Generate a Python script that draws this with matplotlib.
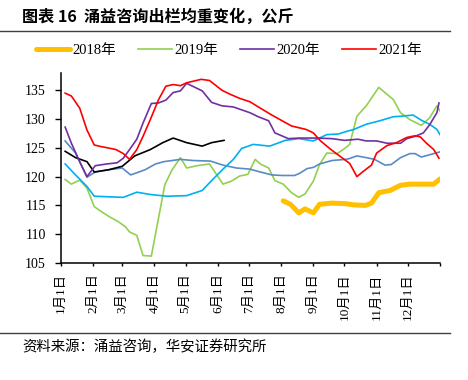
import matplotlib
matplotlib.use('Agg')
import matplotlib.pyplot as plt

plt.rcParams['font.family'] = ['Liberation Serif', 'Noto Sans CJK SC', 'DejaVu Sans']

# x = day of year (kg)
x_2018 = [215, 222, 230, 236, 244, 250, 262, 275, 283, 294, 300, 307, 318, 328, 337, 350, 360, 366]
y_2018 = [115.8, 115.2, 113.7, 114.4, 113.7, 115.2, 115.4, 115.3, 115.1, 115.0, 115.4, 117.2, 117.6, 118.5,
          118.7, 118.7, 118.7, 119.6]

x_2019 = [5, 11, 19, 26, 33, 40, 48, 56, 63, 67, 74, 80, 88, 101, 108, 116, 122, 132, 144, 157, 165, 173,
          181, 188, 193, 201, 207, 215, 223, 230, 236, 244, 250, 257, 267, 275, 279, 286, 295, 307, 321,
          328, 337, 348, 356, 363, 366]
y_2019 = [119.5, 118.7, 119.4, 118.0, 114.8, 113.9, 113.0, 112.2, 111.3, 110.4, 109.8, 106.3, 106.2, 118.6,
          121.2, 123.3, 121.5, 121.9, 122.2, 118.7, 119.2, 120.1, 120.4, 123.0, 122.2, 121.5, 119.3, 118.7,
          117.2, 116.4, 117.0, 119.2, 122.1, 124.1, 124.0, 125.0, 125.6, 130.5, 132.3, 135.5, 133.4, 131.1,
          129.9, 128.9, 130.2, 132.3, 131.4]

x_2020 = [5, 11, 19, 26, 34, 45, 55, 61, 67, 74, 80, 88, 95, 102, 109, 116, 122, 137, 146, 156, 167, 183,
          191, 201, 207, 220, 230, 246, 262, 274, 287, 295, 305, 315, 328, 334, 342, 350, 356, 363, 365]
y_2020 = [128.6, 125.8, 122.6, 120.0, 121.9, 122.2, 122.4, 123.2, 124.7, 126.5, 129.3, 132.7, 132.8, 133.3,
          134.6, 134.9, 136.2, 134.9, 132.9, 132.3, 132.1, 131.1, 130.4, 129.7, 127.6, 126.6, 126.7, 126.7,
          126.6, 126.3, 126.5, 126.2, 126.2, 125.8, 125.8, 126.6, 127.0, 127.6, 129.0, 131.1, 132.8]

x_2021 = [5, 11, 19, 26, 33, 40, 46, 54, 61, 67, 74, 80, 87, 95, 102, 109, 116, 122, 136, 144, 156, 164,
          173, 183, 192, 204, 223, 237, 244, 251, 261, 273, 279, 286, 292, 300, 305, 315, 324, 334, 342,
          347, 353, 360, 365]
y_2021 = [134.5, 134.0, 131.9, 128.1, 125.5, 125.2, 125.0, 124.7, 124.0, 123.0, 124.7, 127.0, 129.9, 133.4,
          135.7, 136.0, 135.8, 136.3, 136.9, 136.7, 135.0, 134.3, 133.6, 133.0, 132.0, 130.7, 128.8, 128.2,
          127.6, 126.2, 124.7, 123.1, 122.3, 120.0, 120.9, 122.0, 124.1, 125.4, 125.9, 126.8, 127.1, 126.9,
          125.8, 124.7, 123.2]

# series drawn without a legend entry
x_black = [5, 15, 26, 33, 47, 60, 72, 87, 99, 109, 122, 137, 146, 158]
y_black = [124.4, 123.3, 122.6, 120.8, 121.2, 121.8, 123.6, 124.7, 125.9, 126.7, 125.9, 125.3, 125.9, 126.3]

x_steel = [5, 15, 26, 34, 47, 60, 68, 76, 82, 92, 100, 116, 128, 145, 157, 170, 183, 191, 204, 214, 226,
           231, 238, 244, 250, 262, 275, 278, 286, 295, 303, 313, 319, 328, 337, 342, 348, 356, 366]
y_steel = [126.2, 124.1, 119.9, 120.8, 121.2, 121.5, 120.3, 120.8, 121.2, 122.2, 122.6, 123.0, 122.8, 122.7,
           122.0, 121.5, 121.3, 120.9, 120.3, 120.2, 120.2, 120.6, 121.4, 121.6, 122.2, 122.8, 123.0, 123.1,
           123.6, 123.3, 123.0, 122.0, 122.1, 123.3, 124.0, 124.0, 123.4, 123.8, 124.3]

x_cyan = [5, 15, 26, 33, 47, 61, 74, 87, 103, 122, 137, 146, 157, 167, 175, 183, 186, 202, 217, 230, 244,
          257, 268, 275, 283, 295, 308, 321, 329, 340, 348, 356, 363, 366]
y_cyan = [122.2, 120.3, 118.3, 116.6, 116.5, 116.4, 117.3, 116.9, 116.6, 116.7, 117.6, 119.3, 121.3, 123.0,
          124.9, 125.4, 125.6, 125.3, 126.3, 126.6, 126.2, 127.3, 127.4, 127.8, 128.2, 129.1, 129.7, 130.4,
          130.5, 130.7, 129.8, 129.1, 128.2, 127.3]

month_days = [1, 32, 60, 91, 121, 152, 182, 213, 244, 274, 305, 335, 366]
month_labels = ['1月1日', '2月1日', '3月1日', '4月1日', '5月1日', '6月1日', '7月1日', '8月1日',
                '9月1日', '10月1日', '11月1日', '12月1日', '']

fig = plt.figure(figsize=(4.68, 3.8), dpi=100)
ax = fig.add_axes([61 / 468, 1 - 263 / 380, 379 / 468, (263 - 73) / 380])

h18, = ax.plot(x_2018, y_2018, color='#FFC000', lw=3.6, solid_capstyle='round', solid_joinstyle='round',
               label='2018年')
h19, = ax.plot(x_2019, y_2019, color='#92D050', lw=1.2, label='2019年')
ax.plot(x_steel, y_steel, color='#5A8AC6', lw=1.2)
ax.plot(x_cyan, y_cyan, color='#00B0F0', lw=1.2)
ax.plot(x_black, y_black, color='black', lw=1.2)
h20, = ax.plot(x_2020, y_2020, color='#7030A0', lw=1.2, label='2020年')
h21, = ax.plot(x_2021, y_2021, color='#FF0000', lw=1.2, label='2021年')

ax.set_xlim(1, 366)
ax.set_ylim(105, 138)
ax.set_yticks([105, 110, 115, 120, 125, 130, 135])
ax.set_xticks(month_days)
ax.set_xticklabels(month_labels, rotation=90, fontsize=9.5)
ax.tick_params(axis='y', labelsize=10, length=4, width=1, pad=7)
ax.tick_params(axis='x', length=2.5, width=1, pad=5)
for s in ['top', 'right']:
    ax.spines[s].set_visible(False)
for s in ['left', 'bottom']:
    ax.spines[s].set_linewidth(1.1)

fig.legend(handles=[h18, h19, h20, h21], ncol=4, loc='center', bbox_to_anchor=(0.49, 1 - 50 / 380),
           frameon=False, fontsize=10.5, handlelength=2.3, handletextpad=0.2, columnspacing=1.5)

fig.text(22 / 468, 1 - 17 / 380, '图表 16  涌益咨询出栏均重变化，公斤', fontsize=11.6, fontweight='bold',
         family=['Noto Sans CJK SC', 'DejaVu Sans'], va='center', ha='left')
fig.add_artist(plt.Line2D([0, 450 / 468], [1 - 30.5 / 380] * 2, color='#404040', lw=1))
fig.add_artist(plt.Line2D([0, 450 / 468], [1 - 333 / 380] * 2, color='#404040', lw=1))
fig.text(22 / 468, 1 - 347 / 380, '资料来源：涌益咨询，华安证券研究所', fontsize=10.4,
         family=['Noto Sans CJK SC', 'DejaVu Sans'], va='center', ha='left')

fig.savefig('out.png', dpi=100)
